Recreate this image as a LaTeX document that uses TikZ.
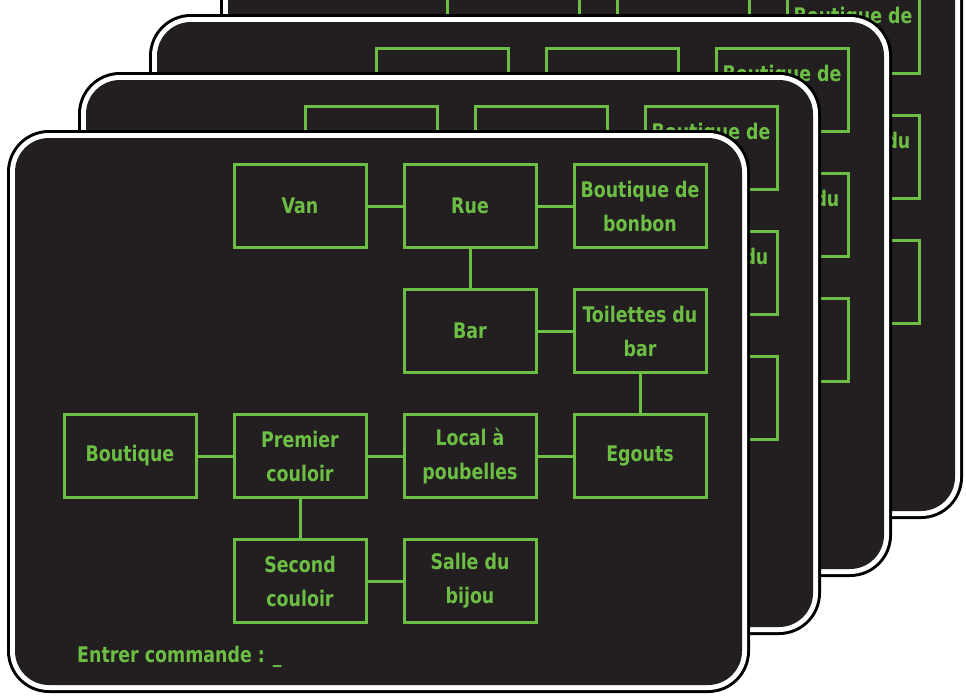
\documentclass[tikz,border=0pt]{standalone}
\usepackage{fontspec}
\setmainfont{DejaVu Sans Condensed}[FakeStretch=0.9]
\usepackage{tikz}
\usetikzlibrary{positioning}
\definecolor{tGreen}{RGB}{108,190,69}
\definecolor{tDark}{RGB}{35,31,32}
% text only on the front card (hidden on the cards behind)
\newcommand{\fronttext}[1]{\ifnum\k=0 #1\fi}

\begin{document}
\begin{tikzpicture}[x=1pt,y=-1pt,node distance=39pt and 35pt,
  room/.style={draw=tGreen,line width=3pt,fill=tDark,text=tGreen,minimum width=132pt,minimum height=83pt,align=center,inner sep=0pt,font=\bfseries\fontsize{21.5}{34}\selectfont},
  link/.style={draw=tGreen,line width=3pt},
  prompt/.style={text=tGreen,inner sep=0pt,font=\bfseries\fontsize{21.5}{24}\selectfont}]
\useasboundingbox (0,0) rectangle (966,696);
\foreach \k in {3,2,1,0}{
\begin{scope}[shift={({71*\k},{-58*\k})}]
% card
\fill[black,rounded corners=42pt] (7,130) rectangle (750,693);
\fill[white,rounded corners=39pt] (10,133) rectangle (747,690);
\fill[tDark,rounded corners=34pt] (15,138) rectangle (742,685);
% rooms
\node[room] (van) at (300,206) {\fronttext{Van}};
\node[room,right=of van] (rue) {\fronttext{Rue}};
\node[room,right=of rue] (bonbon) {Boutique de\\bonbon};
\node[room,below=of rue] (bar) {\fronttext{Bar}};
\node[room,right=of bar] (toilettes) {Toilettes du\\bar};
\node[room,below=of toilettes] (egouts) {\fronttext{Egouts}};
\node[room,left=of egouts] (local) {\fronttext{Local à\\poubelles}};
\node[room,left=of local] (premier) {\fronttext{Premier\\couloir}};
\node[room,left=of premier] (boutique) {\fronttext{Boutique}};
\node[room,below=of premier] (second) {\fronttext{Second\\couloir}};
\node[room,right=of second] (salle) {\fronttext{Salle du\\bijou}};
\node[prompt,anchor=base west] (cmd) at (77,662) {\fronttext{Entrer commande : \_}};
% links
\draw[link] (van)--(rue);
\draw[link] (rue)--(bonbon);
\draw[link] (rue)--(bar);
\draw[link] (bar)--(toilettes);
\draw[link] (toilettes)--(egouts);
\draw[link] (egouts)--(local);
\draw[link] (local)--(premier);
\draw[link] (premier)--(boutique);
\draw[link] (premier)--(second);
\draw[link] (second)--(salle);
\end{scope}}
\end{tikzpicture}
\end{document}
